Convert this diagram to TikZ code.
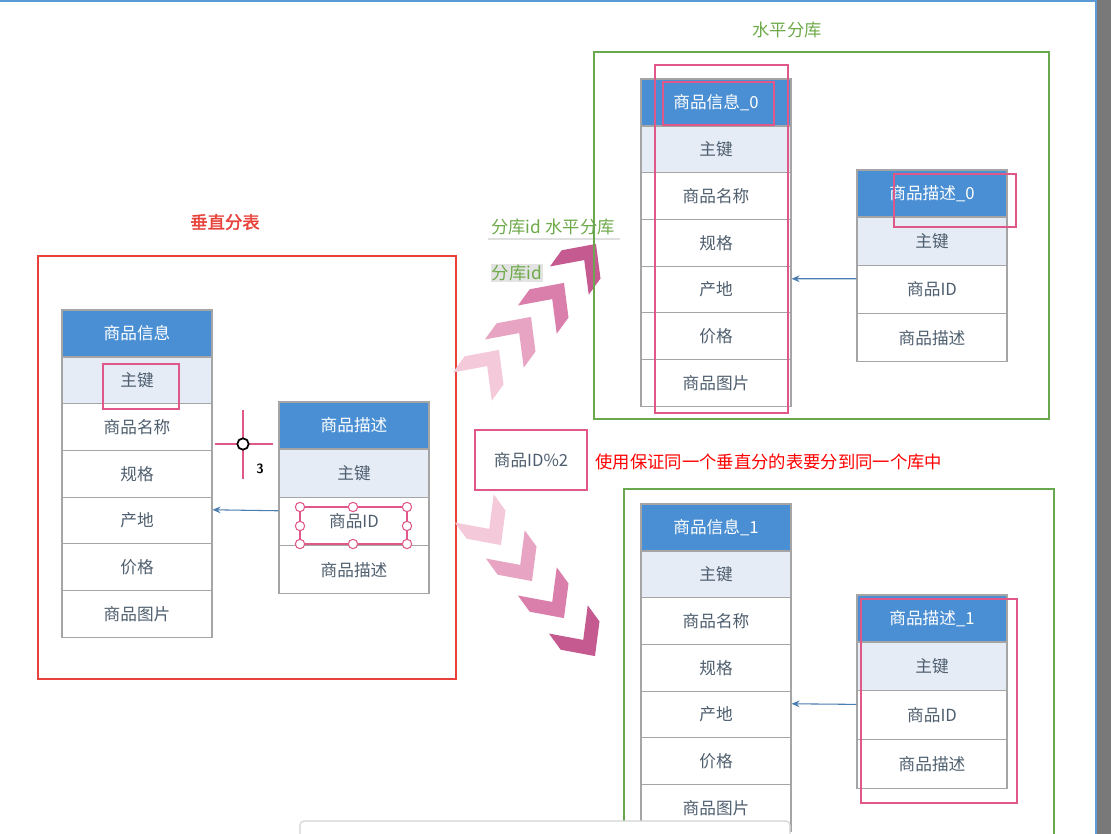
\documentclass[tikz,border=0pt]{standalone}
\usepackage{fontspec}
\newfontfamily\cjk[AutoFakeBold=2]{Noto Sans CJK SC}
\usetikzlibrary{arrows.meta}

\definecolor{hdrblue}{HTML}{4A8FD3}
\definecolor{keyrow}{HTML}{E5ECF6}
\definecolor{tblline}{HTML}{A5A5A5}
\definecolor{tbltext}{HTML}{4E5E6E}
\definecolor{hilite}{HTML}{E0588A}
\definecolor{dbgreen}{HTML}{6AA84F}
\definecolor{lblgreen}{HTML}{6FAA4A}
\definecolor{splitred}{HTML}{E8413A}
\definecolor{linkblue}{HTML}{4A7DB0}
\definecolor{scrblue}{HTML}{5B9BD5}
\definecolor{chevA}{HTML}{F4CADA}
\definecolor{chevB}{HTML}{E8A4C3}
\definecolor{chevC}{HTML}{DA7EAB}
\definecolor{chevD}{HTML}{C55A91}

\tikzset{
  tblrow/.style={draw=tblline, line width=0.8pt, minimum width=112.5pt, inner sep=0pt,
    text=tbltext, font=\cjk\fontsize{12.5}{14}\selectfont},
  tblhead/.style={tblrow, fill=hdrblue, text=white},
  link/.style={linkblue, line width=0.8pt, -{Stealth[length=6pt,width=5pt]}},
  hibox/.style={draw=hilite, line width=1.6pt},
  dbbox/.style={draw=dbgreen, line width=1.6pt},
  handle/.style={circle, draw=hilite, fill=white, line width=0.8pt, minimum size=7pt, inner sep=0pt},
  lbl/.style={font=\cjk\fontsize{13}{15}\selectfont, inner sep=1pt}
}

% #1 name, #2 left x, #3 top y, #4 row height, #5 header, #6 rows
\newcommand{\dbtable}[6]{%
  \node[tblhead, minimum height=47*0.75pt] (#1-0) at (#2+75, #3+23.5) {#5};
  \foreach \r [count=\i] in {#6}{
    \ifnum\i=1 \def\rowfill{keyrow}\else\def\rowfill{white}\fi
    \node[tblrow, fill=\rowfill, minimum height=#4*0.75pt] (#1-\i) at (#2+75, {#3+47+(\i-0.5)*#4}) {\r};
  }
}
% one chevron, pointing along +x before rotation
\newcommand{\chevron}{(-5pt,18pt) -- (14pt,0pt) -- (-5pt,-18pt) -- (-20pt,-18pt) -- (-1pt,0pt) -- (-20pt,18pt) -- cycle}

\begin{document}
\begin{tikzpicture}[x=0.75pt, y=-0.75pt]
\useasboundingbox (0,0) rectangle (1111,834);
\fill[white] (0,0) rectangle (1111,834);

% screen frame
\fill[gray!95!black] (1097,0) rectangle (1111,834);
\draw[scrblue, line width=1.5pt] (0,1) -- (1096,1) -- (1096,834);

% vertical split
\draw[splitred, line width=1.8pt] (38,256) rectangle (456,679);
\node[lbl, text=splitred, font=\cjk\bfseries\fontsize{13}{15}\selectfont] (vlbl) at (225,222) {垂直分表};

\dbtable{li}{62}{310}{46.7}{商品信息}{主键,商品名称,规格,产地,价格,商品图片}
\dbtable{ld}{279}{402}{48.3}{商品描述}{主键,商品ID,商品描述}
\draw[link] ([yshift=8pt]ld-2.west) -- ([yshift=8pt]li-4.east);

\draw[hibox] (103,364) rectangle (179,409);
\draw[hilite, line width=1.5pt] (300,507) rectangle (407,544);
\foreach \hx/\hy in {300/507,353/507,407/507,300/526,407/526,300/544,353/544,407/544}
  \node[handle] at (\hx,\hy) {};

% cursor
\draw[hilite, line width=2.2pt] (215,444) -- (273,444);
\draw[hilite, line width=2.2pt] (243,410) -- (243,479);
\node[circle, draw=black, fill=white, line width=1.3pt, minimum size=8.5pt, inner sep=0pt] (cur) at (243,444) {};
\node[font=\sffamily\bfseries\fontsize{10}{12}\selectfont] (curnum) at (260,469) {3};

% arrows to the two databases
\foreach \cx/\cy/\cc in {488/365/chevA, 520/332/chevB, 553/298/chevC, 585/259/chevD}
  \fill[\cc, shift={(\cx,\cy)}, rotate=54] \chevron;
\foreach \cx/\cy/\cc in {490/530/chevA, 521/566/chevB, 553/603/chevC, 584/641/chevD}
  \fill[\cc, shift={(\cx,\cy)}, rotate=-54] \chevron;

\node[lbl, text=lblgreen] (shard) at (553,227) {分库id 水平分库};
\draw[gray!25, line width=0.8pt] (488,239) -- (620,239);
\node[lbl, text=lblgreen, fill=gray!22] (shardid) at (517,273) {分库id};

\node[hibox, minimum width=84pt, minimum height=45pt, text=tbltext, font=\cjk\fontsize{12.5}{14}\selectfont] (mod) at (531,460) {商品ID\%2};
\node[lbl, text=red, anchor=west] (note) at (594,462) {使用保证同一个垂直分的表要分到同一个库中};

% horizontal shard 0
\draw[dbbox] (594,52) rectangle (1049,419);
\node[lbl, text=lblgreen] (hlbl) at (787,30) {水平分库};
\dbtable{ia}{641}{79}{46.7}{商品信息\_0}{主键,商品名称,规格,产地,价格,商品图片}
\dbtable{da}{857}{170}{48.3}{商品描述\_0}{主键,商品ID,商品描述}
\draw[link] ([yshift=8pt]da-2.west) -- ([yshift=8pt]ia-4.east);
\draw[hibox] (655,65) rectangle (788,413);
\draw[hibox] (663,82) rectangle (774,125);
\draw[hibox] (894,174) rectangle (1016,227);

% horizontal shard 1
\draw[dbbox] (624,489) rectangle (1054,850);
\dbtable{ib}{641}{504}{46.7}{商品信息\_1}{主键,商品名称,规格,产地,价格,商品图片}
\dbtable{db}{857}{595}{48.7}{商品描述\_1}{主键,商品ID,商品描述}
\draw[link] ([yshift=8pt]db-2.west) -- ([yshift=8pt]ib-4.east);
\draw[hibox] (861,599) rectangle (1017,803);

% toolbar
\draw[gray!35, fill=white, rounded corners=3pt, line width=0.8pt] (300,821) rectangle (790,850);
\end{tikzpicture}
\end{document}
